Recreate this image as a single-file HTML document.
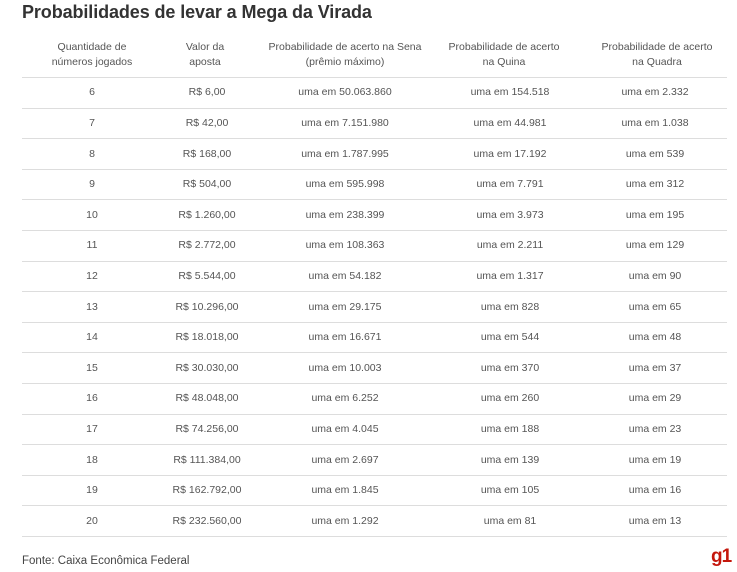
<!DOCTYPE html>
<html><head><meta charset="utf-8"><style>
body{margin:0;width:737px;height:572px;background:#fff;font-family:"Liberation Sans",sans-serif;position:relative;overflow:hidden;color:#555}
.t{position:absolute;left:22px;top:2px;font-size:18px;font-weight:bold;color:#333;letter-spacing:-0.1px}
.h{position:absolute;top:40px;font-size:10.5px;line-height:15px;text-align:center;transform:translateX(-50%);white-space:nowrap}
.l{position:absolute;left:22px;width:705px;height:1px;background:#ddd}
.c{position:absolute;font-size:10.5px;transform:translate(-50%,-50%);white-space:nowrap}
.f{position:absolute;left:22px;top:555px;font-size:11.5px;color:#444}
.g{position:absolute;left:711px;top:546px;font-size:19px;font-weight:bold;color:#c4170c;letter-spacing:-1px}
</style></head><body>
<div class="t">Probabilidades de levar a Mega da Virada</div>
<div class="h" style="left:92px">Quantidade de<br>números jogados</div>
<div class="h" style="left:205px">Valor da<br>aposta</div>
<div class="h" style="left:345px">Probabilidade de acerto na Sena<br>(prêmio máximo)</div>
<div class="h" style="left:504px">Probabilidade de acerto<br>na Quina</div>
<div class="h" style="left:657px">Probabilidade de acerto<br>na Quadra</div>
<div id="rows"></div>
<div class="f">Fonte: Caixa Econômica Federal</div>
<div class="g">g1</div>
<script>
var d=[["6","R$ 6,00","50.063.860","154.518","2.332"],["7","R$ 42,00","7.151.980","44.981","1.038"],["8","R$ 168,00","1.787.995","17.192","539"],["9","R$ 504,00","595.998","7.791","312"],["10","R$ 1.260,00","238.399","3.973","195"],["11","R$ 2.772,00","108.363","2.211","129"],["12","R$ 5.544,00","54.182","1.317","90"],["13","R$ 10.296,00","29.175","828","65"],["14","R$ 18.018,00","16.671","544","48"],["15","R$ 30.030,00","10.003","370","37"],["16","R$ 48.048,00","6.252","260","29"],["17","R$ 74.256,00","4.045","188","23"],["18","R$ 111.384,00","2.697","139","19"],["19","R$ 162.792,00","1.845","105","16"],["20","R$ 232.560,00","1.292","81","13"]];
var h="",x=[92,207,345,510,655];
for(var i=0;i<=15;i++)h+='<div class="l" style="top:'+(77+i*30.6).toFixed(1)+'px"></div>';
d.forEach(function(r,i){var y=(92.3+i*30.6).toFixed(1);
var v=[r[0],r[1],"uma em "+r[2],"uma em "+r[3],"uma em "+r[4]];
v.forEach(function(s,j){h+='<div class="c" style="left:'+x[j]+'px;top:'+y+'px">'+s+'</div>'});});
document.getElementById("rows").innerHTML=h;
</script>
</body></html>
